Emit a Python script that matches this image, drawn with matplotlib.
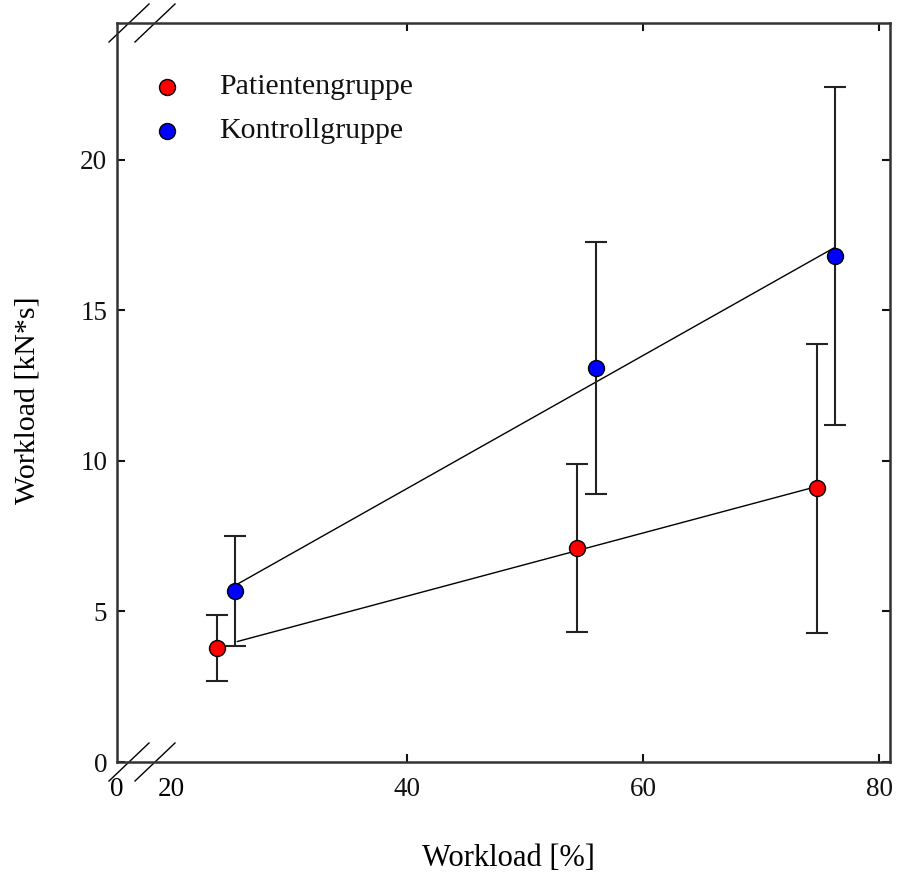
import numpy as np
import matplotlib
matplotlib.use("Agg")
import matplotlib.pyplot as plt
from matplotlib.lines import Line2D

# ---- data ----
groups = ["Patientengruppe", "Kontrollgruppe"]
colors = ["#ff0000", "#0000ff"]
pat_x = [23.9, 54.4, 74.7]
pat_y = [3.79, 7.11, 9.10]
pat_err = [1.1, 2.8, 4.8]
kon_x = [25.4, 56.0, 76.2]
kon_y = [5.68, 13.09, 16.81]
kon_err = [1.82, 4.19, 5.63]
x_major = [40, 60, 80]
x_break_ticks = ["0", "20"]
y_ticks = [0, 5, 10, 15, 20]

plt.rcParams["font.family"] = ["Liberation Serif", "DejaVu Serif"]

W, H = 906, 874
fig = plt.figure(figsize=(W / 100, H / 100), dpi=100)
L, R, T, B = 117, 890, 23, 762
ax = fig.add_axes([L / W, 1 - B / H, (R - L) / W, (B - T) / H])

x_left = 15.4  # position of broken-axis "0"
ax.set_xlim(x_left, 80.9)
ax.set_ylim(0, 24.55)

# regression lines
# patient line starts at first control x (as in reference)
for xs, ys, x0 in [(pat_x, pat_y, kon_x[0] + 0.2), (kon_x, kon_y, kon_x[0])]:
    k, d = np.polyfit(xs, ys, 1)
    xx = np.array([x0, xs[-1]])
    ax.plot(xx, k * xx + d, color="black", lw=1.0, zorder=2)

for xs, ys, es, c in [(pat_x, pat_y, pat_err, colors[0]), (kon_x, kon_y, kon_err, colors[1])]:
    ax.errorbar(xs, ys, yerr=es, fmt="none", ecolor="#222222", elinewidth=1.5,
                capsize=8, capthick=1.5, zorder=3)
    ax.plot(xs, ys, "o", ms=11.5, mfc=c, mec="black", mew=1.0, zorder=4, ls="none")

# ticks
ax.set_xticks(x_major)
ax.set_xticks([x_left, 20], minor=True)
ax.set_xticklabels([str(v) for v in x_major])
ax.set_xticklabels(x_break_ticks, minor=True)
ax.set_yticks(y_ticks)
ax.set_yticklabels([str(v) for v in y_ticks])
ax.tick_params(axis="both", which="major", direction="in", length=6, width=1.5,
               top=True, right=True, labelsize=19.5, colors="#111111")
ax.tick_params(axis="x", which="major", pad=11)
ax.tick_params(axis="y", which="major", pad=7)
ax.tick_params(axis="x", which="minor", length=0, labelsize=19.5, pad=11, top=False)
ax.tick_params(axis="y", which="minor", length=0)

for s in ax.spines.values():
    s.set_linewidth(1.8)
    s.set_color("#333333")

ax.set_xlabel("Workload [%]", fontsize=22)
ax.set_ylabel("Workload [kN*s]", fontsize=21.5)
ax.xaxis.set_label_coords((508 - L) / (R - L), -(858 - B) / (B - T), transform=ax.transAxes)
ax.yaxis.set_label_coords(-(L - 28) / (R - L), (B - 400) / (B - T))
ax.xaxis.label.set_va("center")
ax.yaxis.label.set_va("center")

# break marks
dx = 20 / (R - L)
dy = 19 / (B - T)
for yc in (0.0, 1.0):
    for xc_px in (129, 155):
        xc = (xc_px - L) / (R - L)
        ax.add_line(Line2D([xc - dx, xc + dx], [yc - dy, yc + dy], transform=ax.transAxes,
                           color="black", lw=1.0, clip_on=False))

# legend
for i, (g, c) in enumerate(zip(groups, colors)):
    ypx = 87 + 44 * i
    ya = (B - ypx) / (B - T)
    ax.plot([(167 - L) / (R - L)], [ya], "o", ms=11.5, mfc=c, mec="black", mew=1.0,
            transform=ax.transAxes, clip_on=False)
    ax.text((219 - L) / (R - L), ya, g, transform=ax.transAxes, fontsize=21.5,
            va="center", ha="left", color="#111111")

fig.savefig("out.png", dpi=100)
